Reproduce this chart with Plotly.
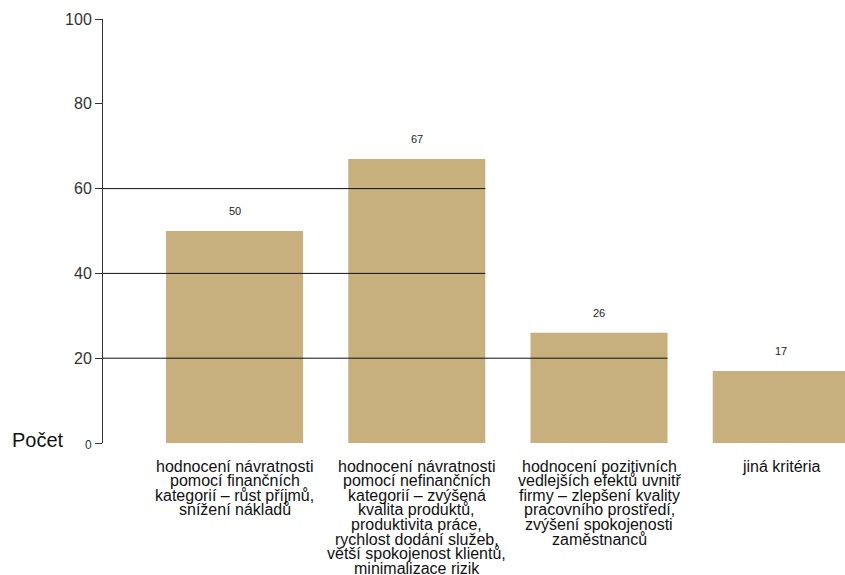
import plotly.graph_objects as go

categories = [
    "hodnocení návratnosti\npomocí finančních\nkategorií – růst příjmů,\nsnížení nákladů",
    "hodnocení návratnosti\npomocí nefinančních\nkategorií – zvýšená\nkvalita produktů,\nproduktivita práce,\nrychlost dodání služeb,\nvětší spokojenost klientů,\nminimalizace rizik",
    "hodnocení pozitivních\nvedlejších efektů uvnitř\nfirmy – zlepšení kvality\npracovního prostředí,\nzvýšení spokojenosti\nzaměstnanců",
    "jiná kritéria",
]
values = [50, 67, 26, 17]
y_ticks = [0, 20, 40, 60, 80, 100]
y_title = "Počet"

FONT = "Liberation Sans, Arial, Helvetica, sans-serif"
BAR_COLOR = "#C7AF7E"
BARGAP = 0.248
X_RANGE = [-0.722, 3.35]
L, R, T = 103, 0, 19
W, H = 845, 575
B = H - T - 424

x = list(range(len(values)))

fig = go.Figure()
fig.add_trace(go.Bar(x=x, y=values, marker=dict(color=BAR_COLOR, line=dict(width=0)),
                     hoverinfo="skip"))

annotations = []
# value labels
for xi, v in zip(x, values):
    annotations.append(dict(x=xi, y=v, xref="x", yref="y", text=str(v), showarrow=False,
                            yanchor="bottom", yshift=12,
                            font=dict(family=FONT, size=11, color="#222")))
# category labels, one annotation per line for tight line spacing
LINE_H = 14.6
for xi, cat in zip(x, categories):
    for j, line in enumerate(cat.split("\n")):
        annotations.append(dict(x=xi, y=0, xref="x", yref="y", text=line, showarrow=False,
                                yanchor="middle", yshift=-23 - j * LINE_H,
                                font=dict(family=FONT, size=16, color="#111")))
# y title
annotations.append(dict(x=0, y=0, xref="paper", yref="y", text=y_title, showarrow=False,
                        xanchor="left", yanchor="middle", xshift=-(L - 10), yshift=3,
                        font=dict(family=FONT, size=20, color="#111")))

# gridlines: from axis to right edge of the last bar exceeding the level
half = (1 - BARGAP) / 2
shapes = []
for yt in y_ticks[1:-1]:
    idx = [i for i, v in zip(x, values) if v > yt]
    if not idx:
        continue
    shapes.append(dict(type="line", xref="x", yref="y", x0=X_RANGE[0], x1=max(idx) + half,
                       y0=yt, y1=yt, line=dict(color="#111", width=1), layer="above"))

ticktext = [("<span style='font-size:12px'>%d</span>" % t) if t == 0 else str(t) for t in y_ticks]

fig.update_layout(
    width=W, height=H,
    margin=dict(l=L, r=R, t=T, b=B, pad=0),
    paper_bgcolor="white", plot_bgcolor="white",
    bargap=BARGAP,
    showlegend=False,
    annotations=annotations,
    shapes=shapes,
    font=dict(family=FONT, color="#333"),
    xaxis=dict(range=X_RANGE, showticklabels=False, showgrid=False, zeroline=False,
               showline=False, ticks="", fixedrange=True),
    yaxis=dict(range=[0, 100], tickvals=y_ticks, ticktext=ticktext, showgrid=False,
               zeroline=False, showline=True, linecolor="#333", linewidth=1,
               ticks="outside", ticklen=7, tickcolor="#333", tickwidth=1,
               tickfont=dict(family=FONT, size=16, color="#333"), fixedrange=True),
)

fig.write_html(
    "out.html",
    config={"displayModeBar": False},
    post_script="document.body.style.margin='0';document.body.style.overflow='hidden';",
)
